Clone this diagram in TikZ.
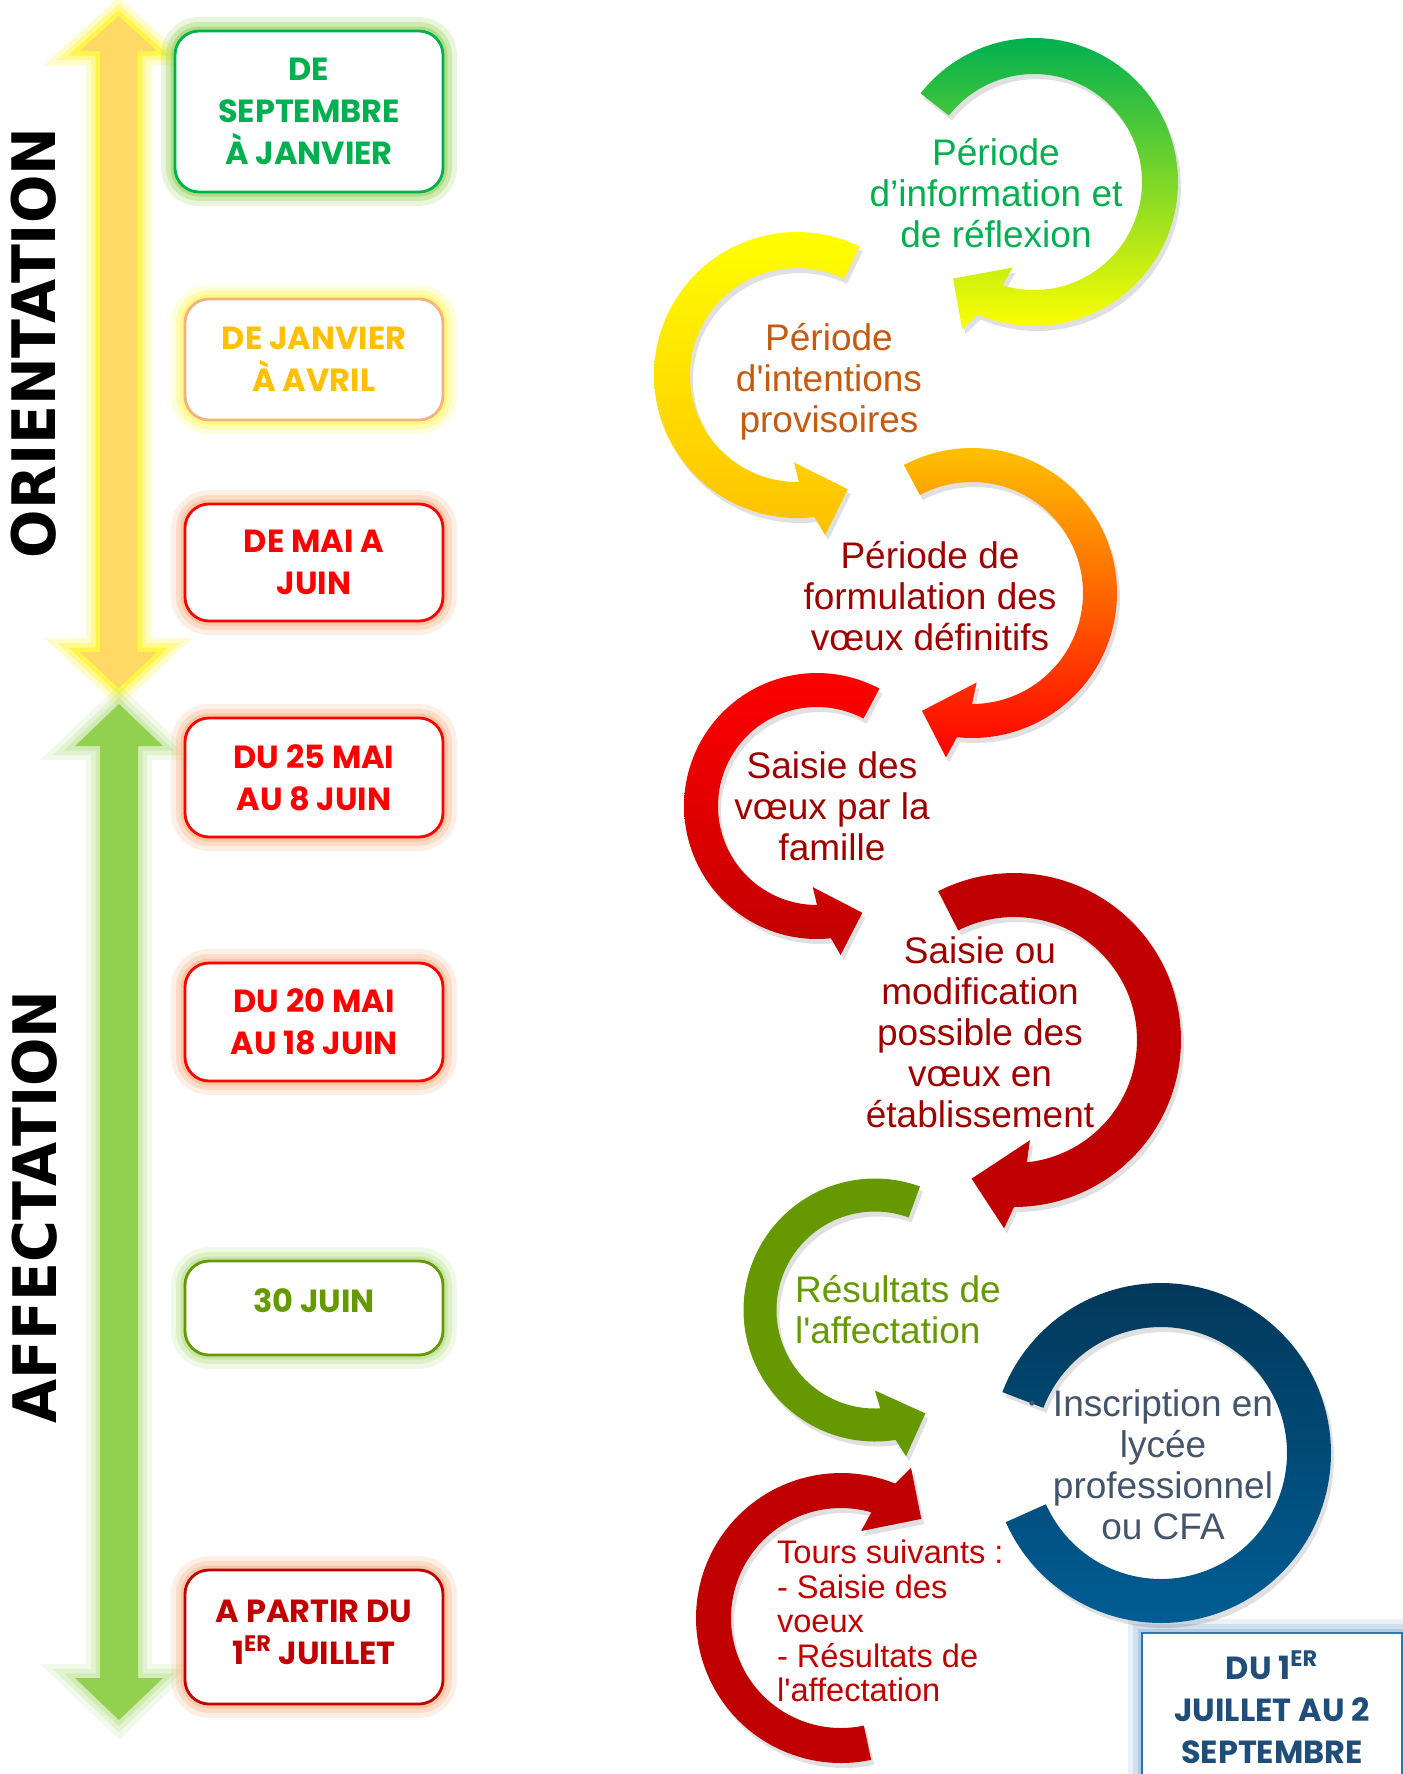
\documentclass[tikz,border=0pt]{standalone}
\usepackage{fontspec}
\setmainfont{Liberation Sans}
\newfontfamily\boxfont{Poppins}
\newfontfamily\sidefont{DejaVu Sans}[FakeStretch=0.95]

\definecolor{vertinfo}{HTML}{00B050}
\definecolor{jauneor}{HTML}{FFC000}
\definecolor{brique}{HTML}{C55A11}
\definecolor{grenat}{HTML}{9E0000}
\definecolor{bordeaux}{HTML}{C00000}
\definecolor{vertolive}{HTML}{669900}
\definecolor{ardoise}{HTML}{44546A}
\definecolor{marine}{HTML}{1F4E79}
\definecolor{bleucadre}{HTML}{2E75B6}
\definecolor{bleunuit}{HTML}{02385A}
\definecolor{bleuvif}{HTML}{005D94}
\definecolor{saumon}{HTML}{F4B183}
\definecolor{dore}{HTML}{FFD966}
\definecolor{vertclair}{HTML}{92D050}

% ring arrow: style, cx, cy, mid radius, half width, tail angle, head base angle
\newcommand{\ringarrow}[7]{%
  \pgfmathsetmacro{\raDir}{ifthenelse(#7>#6,1,-1)}%
  \pgfmathsetmacro{\raHw}{0.3*#4}%
  \pgfmathsetmacro{\raOut}{#7+9*\raDir}%
  \pgfmathsetmacro{\raIn}{#7+3*\raDir}%
  \pgfmathsetmacro{\raBarb}{#7+12*\raDir}%
  \pgfmathsetmacro{\raTip}{#7+26*\raDir}%
  \path[ringshadow] plot[domain=#6:\raOut,samples=90] ({#2+(#4+#5)*cos(\x)},{#3+(#4+#5)*sin(\x)})
    -- ({#2+(#4+\raHw)*cos(\raBarb)},{#3+(#4+\raHw)*sin(\raBarb)})
    -- ({#2+#4*cos(\raTip)},{#3+#4*sin(\raTip)})
    -- ({#2+(#4-\raHw)*cos(#7)},{#3+(#4-\raHw)*sin(#7)})
    -- plot[domain=\raIn:#6,samples=90] ({#2+(#4-#5)*cos(\x)},{#3+(#4-#5)*sin(\x)}) -- cycle;
  \path[#1] plot[domain=#6:\raOut,samples=90] ({#2+(#4+#5)*cos(\x)},{#3+(#4+#5)*sin(\x)})
    -- ({#2+(#4+\raHw)*cos(\raBarb)},{#3+(#4+\raHw)*sin(\raBarb)})
    -- ({#2+#4*cos(\raTip)},{#3+#4*sin(\raTip)})
    -- ({#2+(#4-\raHw)*cos(#7)},{#3+(#4-\raHw)*sin(#7)})
    -- plot[domain=\raIn:#6,samples=90] ({#2+(#4-#5)*cos(\x)},{#3+(#4-#5)*sin(\x)}) -- cycle;
}

\begin{document}
\begin{tikzpicture}[x=0.5pt,y=-0.5pt]
  \tikzset{glow/.style={preaction={draw=#1,line width=14pt,opacity=.2},
                        preaction={draw=#1,line width=9pt,opacity=.3},
                        preaction={draw=#1,line width=4.5pt,opacity=.5}}}
  \tikzstyle{datebox} = [rectangle, rounded corners=12pt, line width=1.4pt, fill=white, align=center, font=\boxfont\bfseries\fontsize{16}{21}\selectfont, minimum width=129pt]
  \tikzstyle{sidelabel} = [rotate=90, font=\sidefont\bfseries\fontsize{30}{30}\selectfont]
  \tikzstyle{arctext} = [align=center, font=\fontsize{18.5}{20.5}\selectfont]
  \tikzstyle{ringshadow} = [fill=black, opacity=.12, shift={(3,5)}]
  \tikzstyle{arcinfo} = [top color=vertinfo, bottom color=yellow]
  \tikzstyle{arcintent} = [top color=yellow, bottom color=jauneor]
  \tikzstyle{arcformul} = [top color=jauneor, bottom color=red]
  \tikzstyle{arcsaisie} = [top color=red, bottom color=bordeaux]
  \useasboundingbox (0,0) rectangle (1403,1774);

  % timeline arrows
  \fill[dore, glow=yellow] (100,51) -- (80,51) -- (118.5,16) -- (157,51) -- (137,51) -- (137,652) -- (157,652) -- (118.5,688) -- (80,652) -- (100,652) -- cycle;
  \fill[vertclair, glow=vertclair!60] (100,746) -- (75,746) -- (119,704) -- (163,746) -- (138,746) -- (138,1678) -- (163,1678) -- (119,1720) -- (75,1678) -- (100,1678) -- cycle;
  \node[sidelabel] (orient) at (34,343) {ORIENTATION};
  \node[sidelabel] (affect) at (35,1207) {AFFECTATION};

  % date boxes
  \node[datebox,draw=vertinfo,text=vertinfo,glow=vertclair,minimum width=134pt,minimum height=80.5pt] (sept) at (309,111.5) {DE\\SEPTEMBRE\\À JANVIER};
  \node[datebox,draw=saumon,text=jauneor,glow=yellow!70,minimum height=60.5pt] (janv) at (314,359.5) {DE JANVIER\\À AVRIL};
  \node[datebox,draw=red,text=red,glow=saumon,minimum height=58.5pt] (mai) at (314,562.5) {DE MAI A\\JUIN};
  \node[datebox,draw=red,text=red,glow=saumon,minimum height=59.5pt] (mai25) at (314,777.5) {DU 25 MAI\\AU 8 JUIN};
  \node[datebox,draw=red,text=red,glow=saumon,minimum height=59pt] (mai20) at (314,1022) {DU 20 MAI\\AU 18 JUIN};
  \node[datebox,draw=vertolive,text=vertolive,glow=vertclair!70,minimum height=47pt] (juin30) at (314,1308) {\raisebox{7pt}{30 JUIN}};
  \node[datebox,draw=bordeaux,text=bordeaux,glow=saumon,minimum height=67pt] (juil) at (314,1637) {\raisebox{5pt}{A PARTIR DU}\\\raisebox{5pt}{1\textsuperscript{ER} JUILLET}};
  \node[datebox,rounded corners=0pt,draw=bleucadre,text=marine,glow=bleucadre!50,minimum width=130pt,minimum height=74pt] (sept2) at (1272,1707) {DU 1\textsuperscript{ER}\\JUILLET AU 2\\SEPTEMBRE};

  % circular arrows
  \ringarrow{arcinfo}{1034}{182}{126}{18}{-142}{104}
  \ringarrow{arcintent}{797}{375}{125}{18}{-64}{-268}
  \ringarrow{arcformul}{972}{593}{128}{17}{-118}{87}
  \ringarrow{arcsaisie}{817}{806}{116}{17}{-62}{-267}
  \ringarrow{fill=bordeaux}{1014}{1040}{145}{22}{-117}{81}
  \ringarrow{fill=vertolive}{875}{1310}{115}{16.5}{-70}{-270}
  \ringarrow{fill=bordeaux}{841}{1618}{127.5}{17.5}{78}{283}
  \path[ringshadow] plot[domain=-159:156,samples=120] ({1161+170*cos(\x)},{1453+170*sin(\x)}) -- plot[domain=156:-159,samples=120] ({1161+126*cos(\x)},{1453+126*sin(\x)}) -- cycle;
  \path[top color=bleunuit, bottom color=bleuvif] plot[domain=-159:156,samples=120] ({1161+170*cos(\x)},{1453+170*sin(\x)}) -- plot[domain=156:-159,samples=120] ({1161+126*cos(\x)},{1453+126*sin(\x)}) -- cycle;

  % texts
  \node[arctext,text=vertinfo] (info) at (996,193) {Période\\d’information et\\de réflexion};
  \node[arctext,text=brique] (intent) at (829,382) {Période\\d\textquotesingle intentions\\provisoires};
  \node[arctext,text=grenat] (formul) at (930,596) {Période de\\formulation des\\vœux définitifs};
  \node[arctext,text=grenat] (saisie) at (832,806) {Saisie des\\vœux par la\\famille};
  \node[arctext,text=grenat] (modif) at (980,1032) {Saisie ou\\modification\\possible des\\vœux en\\établissement};
  \node[arctext,align=left,anchor=west,text=vertolive] (result) at (788,1310) {Résultats de\\l\textquotesingle affectation};
  \node[arctext,text=ardoise] (inscr) at (1163,1465) {Inscription en\\lycée\\professionnel\\ou CFA};
  \node[text=ardoise,font=\fontsize{9}{9}\selectfont] (puce) at (1032,1405) {•};
  \node[align=left,anchor=west,text=bordeaux,font=\fontsize{16.3}{17.25}\selectfont] (tours) at (770,1621) {Tours suivants :\\- Saisie des\\voeux\\- Résultats de\\l\textquotesingle affectation};
\end{tikzpicture}
\end{document}
